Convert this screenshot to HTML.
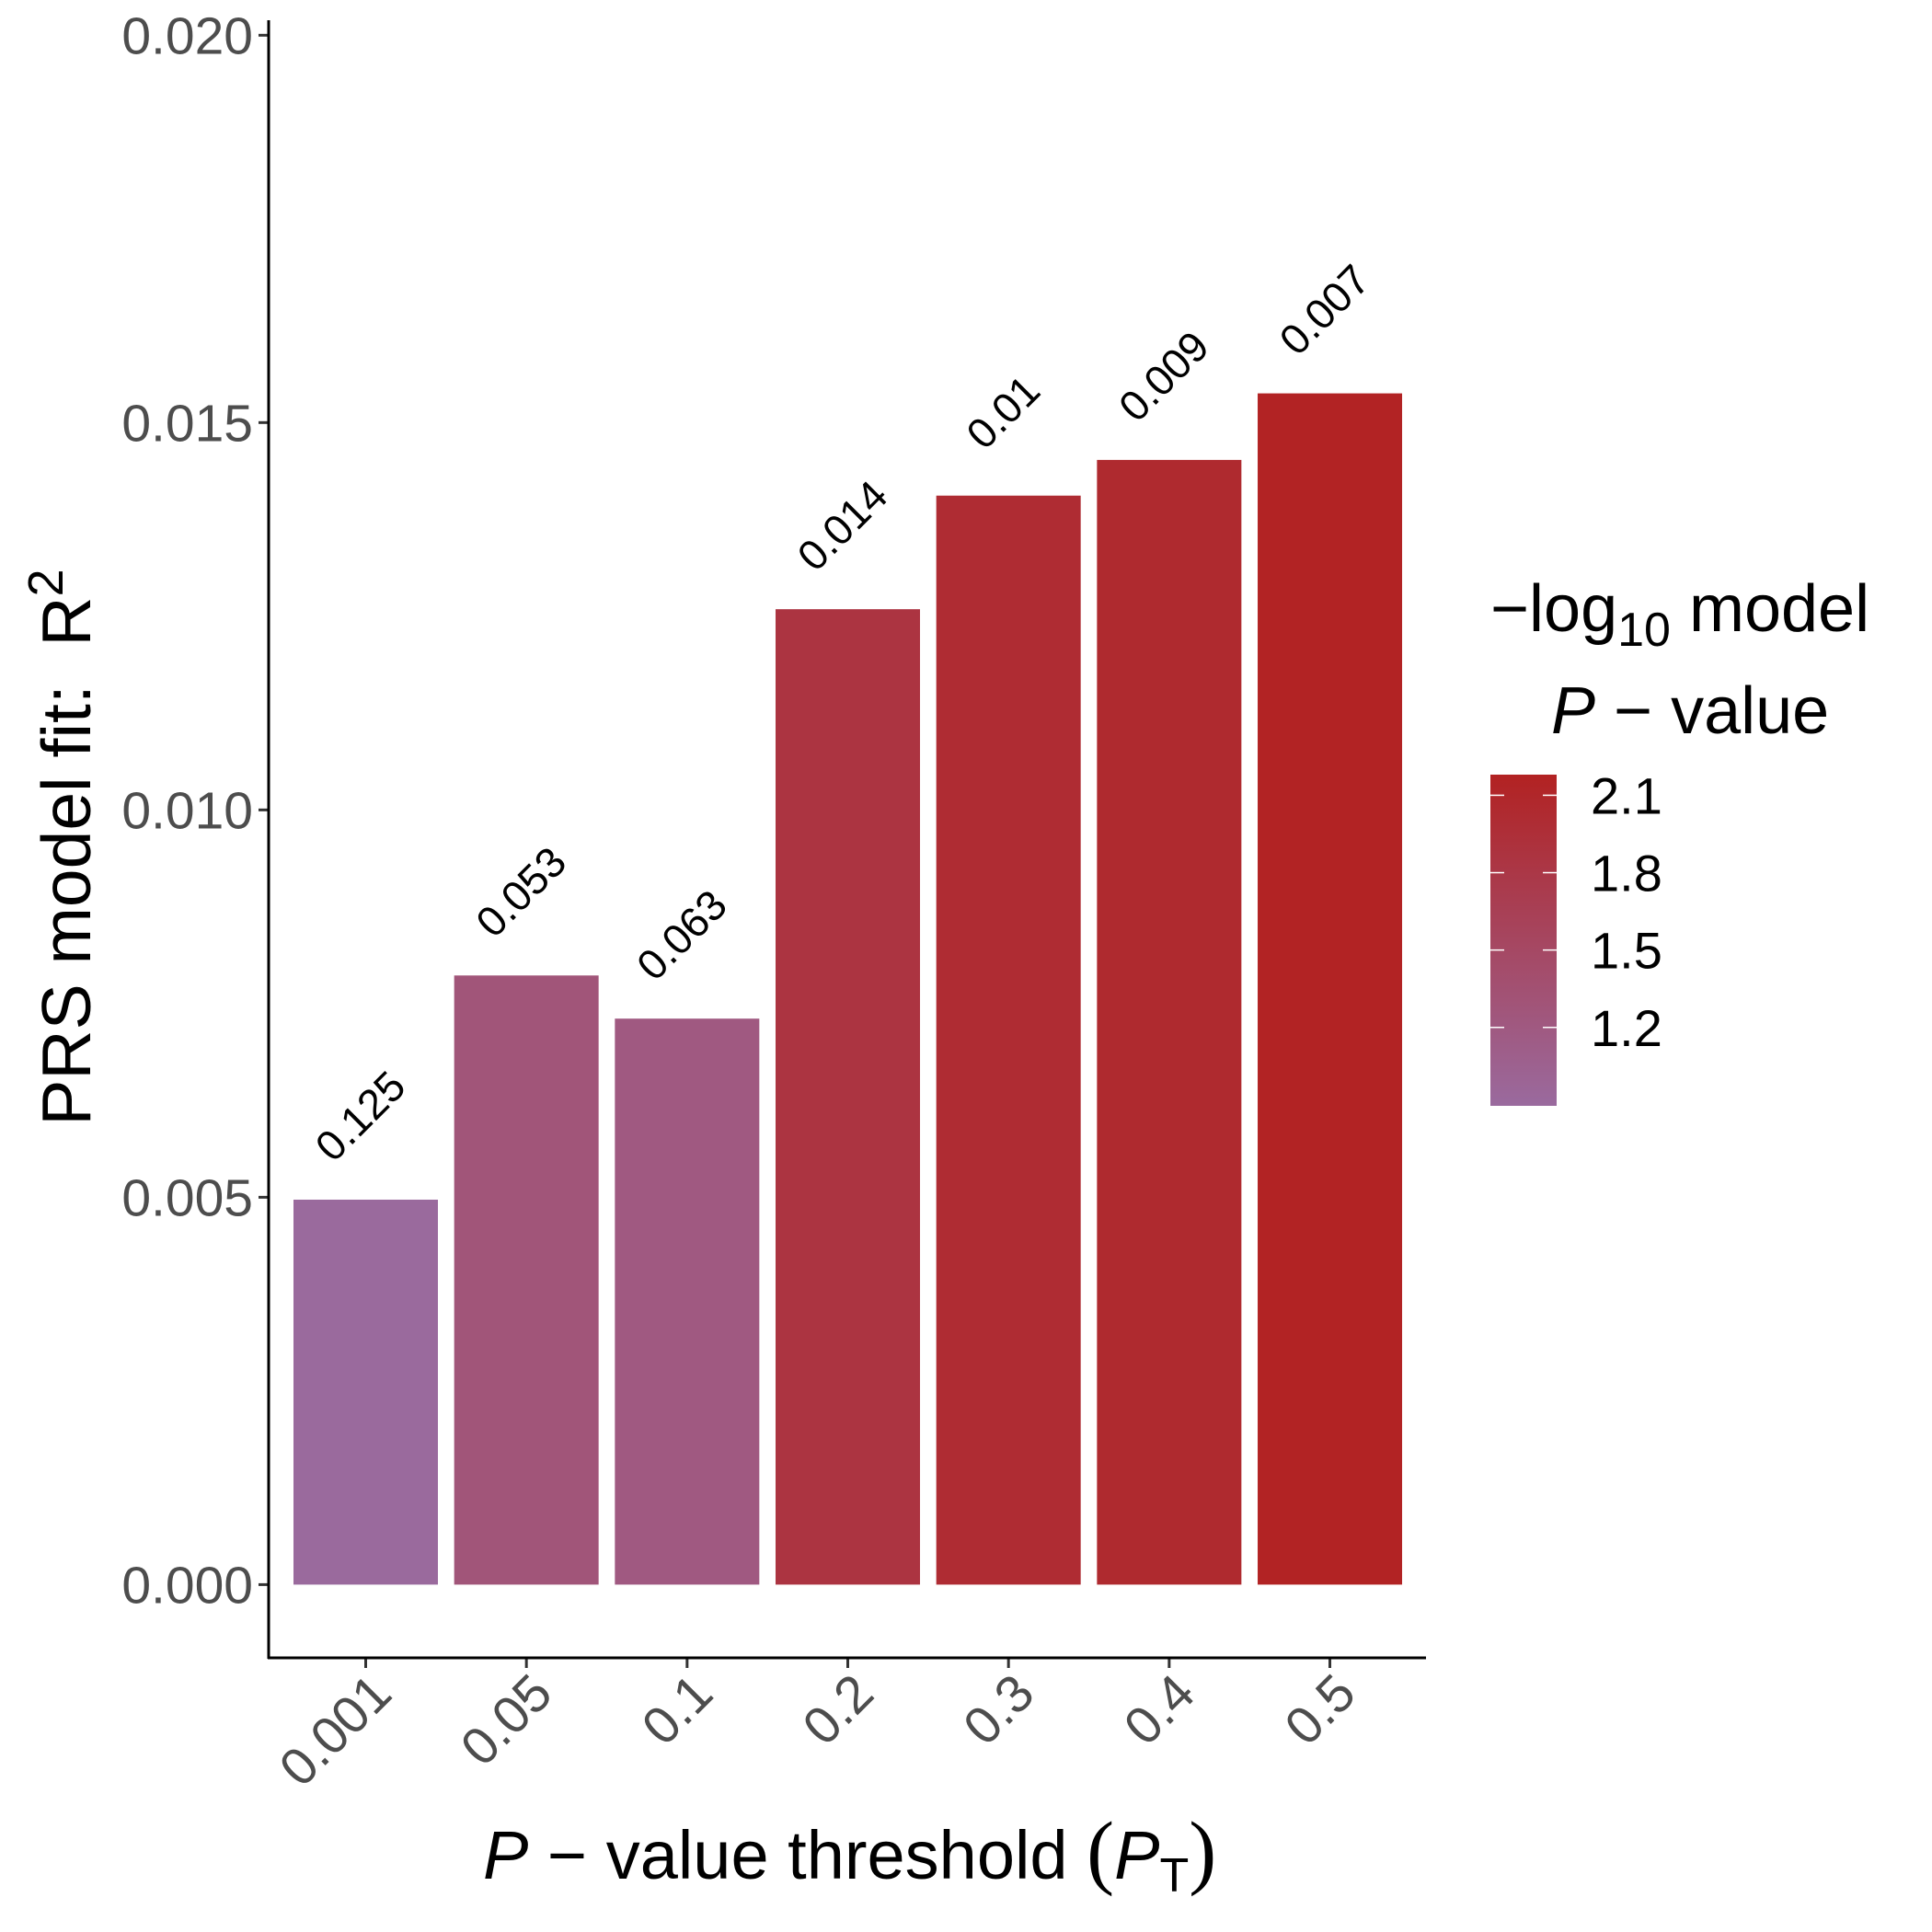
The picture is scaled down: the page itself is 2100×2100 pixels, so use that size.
<!DOCTYPE html>
<html><head><meta charset="utf-8"><style>
html,body{margin:0;padding:0;background:#fff;}
svg{display:block;font-family:"Liberation Sans",Arial,sans-serif;}
</style></head><body>
<svg id="chart" width="2100" height="2100" viewBox="0 0 2100 2100" xmlns="http://www.w3.org/2000/svg">
<defs><linearGradient id="cbar" x1="0" y1="1" x2="0" y2="0">
<stop offset="0" stop-color="#9A6A9E"/><stop offset="1" stop-color="#B22222"/></linearGradient></defs>
<g id="bars"></g>
<g id="annots"></g>
<g id="yaxis"></g>
<g id="xaxis"></g>
<text transform="translate(98,921) rotate(-90)" text-anchor="middle" font-size="75" fill="#000">PRS model fit:&#160;&#160;R<tspan dy="-30" font-size="54">2</tspan></text>
<text x="525" y="2042" font-size="74" fill="#000"><tspan font-style="italic">P</tspan> − value threshold <tspan font-family="'Liberation Serif',serif" font-size="90">(</tspan><tspan font-style="italic">P</tspan><tspan dy="14" font-size="52">T</tspan><tspan dy="-14" font-family="'Liberation Serif',serif" font-size="90">)</tspan></text>
<g>
<text x="1620" y="686" font-size="72" fill="#000">−log<tspan dy="16" font-size="52">10</tspan><tspan dy="-16"> model</tspan></text>
<text x="1686" y="797" font-size="72" fill="#000"><tspan font-style="italic">P</tspan> − value</text>
<rect x="1620" y="842" width="72" height="360" fill="url(#cbar)"/>
<g id="legticks"></g>
</g>
</svg>
<script>
const categories = ["0.001","0.05","0.1","0.2","0.3","0.4","0.5"];
const r2Values = [0.004969,0.007863,0.007306,0.012591,0.014057,0.014518,0.015377];
const pValueLabels = ["0.125","0.053","0.063","0.014","0.01","0.009","0.007"];
const logPValues = [0.903,1.276,1.201,1.854,2.0,2.046,2.155];
const yTicks = [0,0.005,0.010,0.015,0.020];
const yTickLabels = ["0.000","0.005","0.010","0.015","0.020"];
const legendTicks = [1.2,1.5,1.8,2.1];
const legendTickLabels = ["1.2","1.5","1.8","2.1"];

const NS="http://www.w3.org/2000/svg";
const y0px=1722.4, pxPerUnit=(1722.4-38.3)/0.02;
function yScale(v){return y0px - v*pxPerUnit;}
const x0=397.5, step=174.67;
function xScale(i){return x0+i*step;}
const cMin=0.896, cMax=2.18;
function lScale(v){return 1202-(v-cMin)/(cMax-cMin)*360;}
function color(v){
  let t=Math.max(0,Math.min(1,(v-cMin)/(cMax-cMin)));
  const a=[0x9A,0x6A,0x9E], b=[0xB2,0x22,0x22];
  return "rgb("+a.map((c,k)=>Math.round(c+(b[k]-c)*t)).join(",")+")";
}
function mk(tag,attrs,parent){const e=document.createElementNS(NS,tag);for(const k in attrs)e.setAttribute(k,attrs[k]);parent.appendChild(e);return e;}
const bars=document.getElementById('bars'), ann=document.getElementById('annots');
const xa=document.getElementById('xaxis'), ya=document.getElementById('yaxis');
const bw=157;
categories.forEach((c,i)=>{
  const cx=xScale(i), top=yScale(r2Values[i]);
  const r=mk('rect',{x:cx-bw/2,y:top,width:bw,height:y0px-top,fill:color(logPValues[i])},bars);
  
  
  const t=mk('text',{transform:`translate(${cx-6},${top-91}) rotate(-45)`,'text-anchor':'middle','dominant-baseline':'central','font-size':46,fill:'#000'},ann);
  t.textContent=pValueLabels[i];
  
  
  const tk=mk('line',{x1:cx,x2:cx,y1:1802,y2:1813,stroke:'#333','stroke-width':3},xa);
  
  
  const lb=mk('text',{transform:`translate(${cx+31},${1844}) rotate(-45)`,'text-anchor':'end','font-size':57,fill:'#4d4d4d'},xa);
  lb.textContent=c;
  
  
});
yTicks.forEach((v,i)=>{
  const y=yScale(v);
  const tk=mk('line',{x1:281,x2:292,y1:y,y2:y,stroke:'#333','stroke-width':3},ya);
  
  
  const lb=mk('text',{x:275,y:y+20,'text-anchor':'end','font-size':57,fill:'#4d4d4d'},ya);
  lb.textContent=yTickLabels[i];
  
  
});
const yl=mk('line',{x1:292,x2:292,y1:22,y2:1803,stroke:'#000','stroke-width':3},ya);


const xl=mk('line',{x1:291,x2:1550,y1:1802,y2:1802,stroke:'#000','stroke-width':3},xa);


const lt=document.getElementById('legticks');
legendTicks.forEach((v,i)=>{
  const y=lScale(v);
  mk('line',{x1:1620,x2:1635,y1:y,y2:y,stroke:'#fff','stroke-width':1.5},lt);
  mk('line',{x1:1677,x2:1692,y1:y,y2:y,stroke:'#fff','stroke-width':1.5},lt);
  const lb=mk('text',{x:1729,y:y+20,'font-size':56,fill:'#000'},lt);
  lb.textContent=legendTickLabels[i];
  
  
});
</script>
</body></html>
